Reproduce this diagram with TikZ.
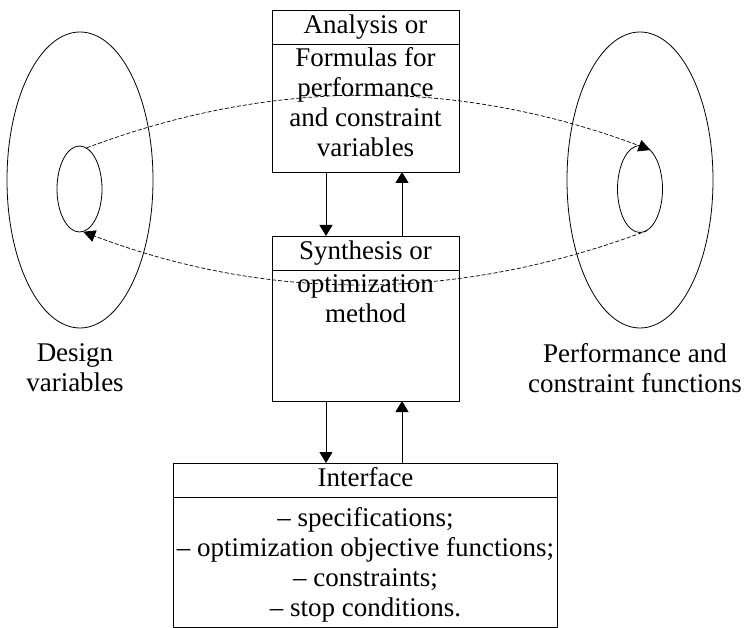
\documentclass[tikz,border=0pt]{standalone}
\usepackage{fontspec}
\setmainfont{Liberation Serif}
\usepackage{tikz}
\usetikzlibrary{arrows.meta, positioning, shapes.geometric}

\begin{document}
\begin{tikzpicture}[x=1pt, y=-1pt, font=\fontsize{27}{30}\selectfont,
    block/.style={draw, line width=0.9pt, inner sep=0pt, outer sep=0pt, minimum width=187pt},
    head/.style={inner sep=0pt, outer sep=0pt, minimum height=34pt, text height=18.5pt, text depth=6pt},
    body/.style={align=center, inner sep=0pt},
    ring/.style={draw, ellipse, line width=0.8pt, inner sep=0pt},
    arr/.style={line width=0.9pt, -{Triangle[length=11pt, width=13pt]}},
    flow/.style={line width=0.7pt, dash pattern=on 4pt off 2pt, -{Triangle[length=12pt, width=12pt]}}]

    \useasboundingbox (0,0) rectangle (744,628);

    % les trois blocs du milieu
    \node[block, minimum height=162pt] (ana) at (365.5,91) {};
    \node[block, minimum height=165pt, below=64pt of ana] (syn) {};
    \node[block, minimum width=384pt, minimum height=164pt, below=62pt of syn] (itf) {};

    % titres et séparations
    \node[head, minimum width=187pt, anchor=north] (anahead) at (ana.north) {Analysis or};
    \node[head, minimum width=187pt, anchor=north] (synhead) at (syn.north) {Synthesis or};
    \node[head, minimum width=384pt, anchor=north] (itfhead) at (itf.north) {Interface};
    \draw[line width=0.9pt] (anahead.south west) -- (anahead.south east);
    \draw[line width=0.9pt] (synhead.south west) -- (synhead.south east);
    \draw[line width=0.9pt] (itfhead.south west) -- (itfhead.south east);

    % contenu des blocs
    \node[body, below=3pt of anahead] (anabody) {Formulas for\\performance\\and constraint\\variables};
    \node[body, below=4pt of synhead] (synbody) {optimization\\method};
    \node[body, below=10pt of itfhead] (itfbody) {-- specifications;\\-- optimization objective functions;\\-- constraints;\\-- stop conditions.};

    % liaisons entre blocs
    \draw[arr] ([xshift=-39.5pt]ana.south) -- ([xshift=-39.5pt]syn.north);
    \draw[arr] ([xshift=36.5pt]syn.north) -- ([xshift=36.5pt]ana.south);
    \draw[arr] ([xshift=-39.5pt]syn.south) -- ([xshift=-39.5pt]itf.north);
    \draw[arr] ([xshift=36.5pt]itf.north) -- ([xshift=36.5pt]syn.south);

    % espaces des variables et des fonctions
    \node[ring, minimum width=146pt, minimum height=296pt] (dvouter) at (80,180) {};
    \node[ring, minimum width=45pt, minimum height=86pt] (dvinner) at (79.5,189) {};
    \node[ring, minimum width=146pt, minimum height=296pt] (pfouter) at (640,180) {};
    \node[ring, minimum width=45pt, minimum height=87pt] (pfinner) at (640,189) {};

    \node[body, below=15pt of dvouter, xshift=-5pt] (dvlabel) {Design\\variables};
    \node[body, below=15pt of pfouter, xshift=-5pt] (pflabel) {Performance and\\constraint functions};

    % correspondances
    \draw[flow] (dvinner.80) .. controls +(188,-71) and +(-189,-71) .. (pfinner.75);
    \draw[flow] (pfinner.-80) .. controls +(-188,71) and +(188,71) .. (dvinner.-85);

\end{tikzpicture}
\end{document}
